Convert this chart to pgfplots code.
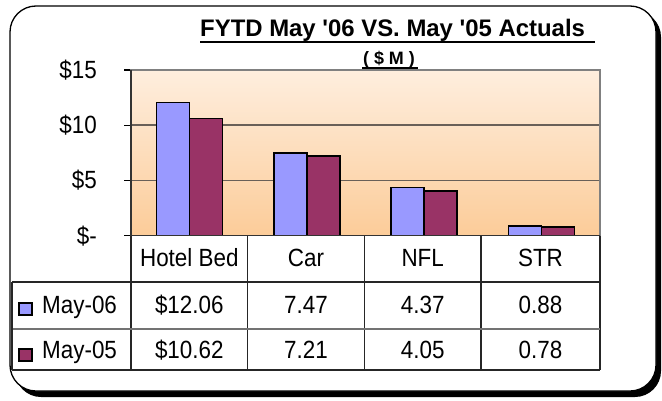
\documentclass[border=0pt]{standalone}
\usepackage{pgfplots}
\pgfplotsset{compat=1.18}
\usepackage{fontspec}
\setmainfont{Liberation Sans}
\newfontfamily\cond{Liberation Sans}[FakeStretch=0.9]
\definecolor{bA}{HTML}{9999FF}
\definecolor{bB}{HTML}{993366}
\definecolor{gridc}{RGB}{105,96,88}
\definecolor{bgtop}{RGB}{254,238,222}
\definecolor{bgbot}{RGB}{252,204,153}
\newcommand{\tf}{\cond\fontsize{25}{25}\selectfont}
\begin{document}
\begin{tikzpicture}[x=1bp,y=1bp]
\path[use as bounding box] (0,0) rectangle (662,400);
\fill[black, rounded corners=26bp] (15,3) rectangle (661,389);
\draw[fill=white, line width=1.3bp, rounded corners=26bp] (10,9) rectangle (656,394);
\begin{axis}[
  at={(131bp,164.3bp)}, anchor=south west,
  width=469bp, height=165.7bp, scale only axis,
  xmin=-0.5, xmax=3.5, ymin=0, ymax=15,
  xtick=\empty,
  ytick={0,5,10,15}, yticklabels={\$-,\$5,\$10,\$15},
  ytick pos=left,
  ymajorgrids, grid style={gridc, line width=1.5bp},
  axis line style={gray, line width=1.2bp},
  tick style={black, line width=1.1bp},
  tick align=outside, major tick length=7bp,
  yticklabel style={font=\tf, anchor=east, inner sep=0pt, xshift=-27bp},
  ybar=0pt, bar width=33bp,
  axis background/.style={top color=bgtop, bottom color=bgbot},
]
\addplot[fill=bA, draw=black, line width=1.7bp] coordinates {(0,12.06) (1,7.47) (2,4.37) (3,0.88)};
\addplot[fill=bB, draw=black, line width=1.7bp] coordinates {(0,10.62) (1,7.21) (2,4.05) (3,0.78)};
\end{axis}
% axis lines
\draw[black!80, line width=1.2bp] (131,330) -- (131,164.3) -- (600,164.3);
% table
\draw[black!85, line width=1.2bp] (131,164.3) -- (131,30);
\foreach \x in {247.7,364.3,481,600} \draw[black!85, line width=1.2bp] (\x,164.3) -- (\x,30);
\draw[black!85, line width=1.2bp] (12,118) -- (600,118);
\draw[black!55, line width=1.2bp] (12,71) -- (600,71);
\draw[black!85, line width=1.2bp] (12,30) -- (600,30);
\draw[black!85, line width=1.2bp] (12,118) -- (12,30);
% headers
\foreach \x/\t in {189.3/Hotel Bed,306/Car,422.7/NFL,540.5/STR}
  \node[anchor=base, inner sep=0, font=\tf] at (\x,134) {\t};
\foreach \x/\t in {189.3/\$12.06,306/7.47,422.7/4.37,540.5/0.88}
  \node[anchor=base, inner sep=0, font=\tf] at (\x,87) {\t};
\foreach \x/\t in {189.3/\$10.62,306/7.21,422.7/4.05,540.5/0.78}
  \node[anchor=base, inner sep=0, font=\tf] at (\x,42) {\t};
% legend keys
\draw[fill=bA, line width=1.1bp] (19,85) rectangle (32,97);
\draw[fill=bB, line width=1.1bp] (19,39) rectangle (32,51);
\node[anchor=base west, inner sep=0, font=\tf] at (42,87) {May-06};
\node[anchor=base west, inner sep=0, font=\tf] at (42,42) {May-05};
% title
\node[anchor=base west, inner sep=0, font=\bfseries\fontsize{24}{24}\selectfont] (t) at (200,364) {FYTD May \textquotesingle06 VS. May \textquotesingle05 Actuals};
\draw[line width=2.4bp] (200,358.3) -- ([xshift=10bp]t.east |- 0,358.3);
\node[anchor=base, inner sep=0, font=\bfseries\fontsize{18}{18}\selectfont] (s) at (389,336) {( \$ M )};
\draw[line width=2.2bp] (362,331.7) -- (418,331.7);
\end{tikzpicture}
\end{document}
